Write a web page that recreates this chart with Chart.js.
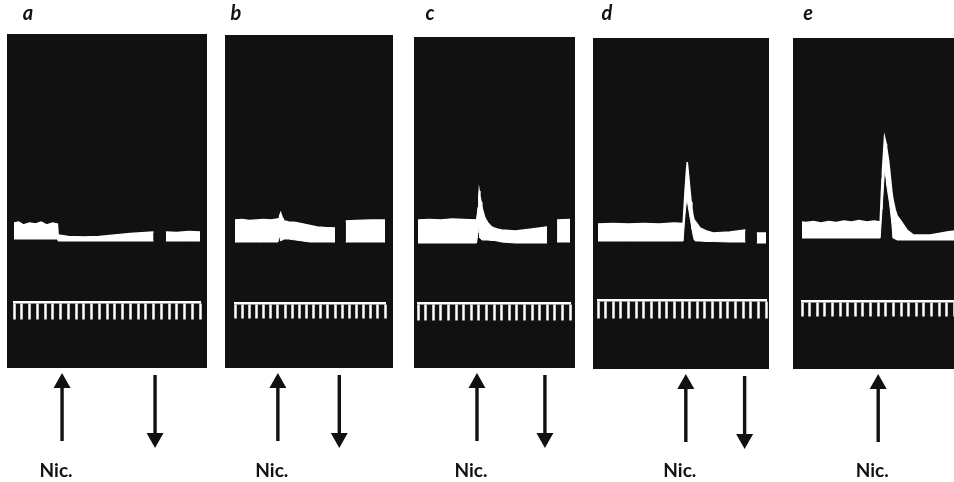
<!DOCTYPE html>
<html>
<head>
<meta charset="utf-8">
<script src="https://cdn.jsdelivr.net/npm/chart.js@4"></script>
<style>
  html, body { margin: 0; padding: 0; background: #fff; overflow: hidden; }
  #wrap { position: relative; width: 954px; height: 482px; overflow: hidden; }
  #wrap canvas { position: absolute; top: 0; }
</style>
</head>
<body>
<div id="wrap"></div>
<script>
// ----------------------
//  DATA (x = time-marker intervals, y = trace height above panel floor)
// ----------------------
const letters = ['a', 'b', 'c', 'd', 'e'];
const markCounts = [24, 21, 20, 22, 21];
const nicOn = [6.2, 6.0, 7.76, 11.5, 10.0];
const nicOff = [18.2, 14.6, 16.7, 19.2, null];

const timeA = [0, 0.6, 1.2, 2, 2.8, 3.5, 4.2, 5, 5.6, 5.7, 7, 9, 11, 13, 15, 17, 18, 18.5, 19.6, 21, 22.5, 24];
const upperA = [145, 146, 143, 145, 144, 146, 143, 145, 144, 133, 131.5, 131, 131.5, 133, 134.5, 135.5, 136, null, 136, 135.5, 136.5, 136];
const lowerA = [129, 129, 129, 129, 129, 129, 129, 129, 129, 127, 127, 127, 127, 127, 127, 127, 127, null, 127, 127, 127, 127];

const timeB = [0, 1, 2, 3, 4, 5, 6, 6.1, 6.2, 6.25, 6.4, 6.6, 6.9, 7.5, 8.5, 9.5, 10.5, 11.5, 12.5, 14, 14.5, 15.5, 17, 19, 21];
const upperB = [148, 148.5, 147.5, 148, 148.5, 148, 149, 149.5, 150, 152, 155, 151, 147, 146, 145.5, 144, 142.5, 141, 140.5, 140, null, 147, 147.5, 148, 148];
const lowerB = [126, 126, 126, 126, 126, 126, 126, 128, 131, 135, 127, 128, 129, 129, 128, 127, 126, 126, 126, 126, null, 126, 126, 126, 126];

const timeC = [0, 1.5, 3, 4.5, 6, 7.7, 7.85, 7.9, 8.0, 8.05, 8.15, 8.3, 8.4, 8.5, 8.8, 9.2, 9.7, 10, 10.4, 11, 12.8, 15, 16.97, 17.5, 18.3, 20];
const upperC = [148, 148.5, 148, 149, 148.5, 148, 155, 160, 172, 177, 172, 166, 162, 158, 150, 145, 141, 140, 139, 138, 137, 139, 141, null, 148, 148.5];
const lowerC = [125, 125, 125, 125, 125, 125, 133, 136, 141, 137, 130, 129, 128, 128, 128, 128, 127.5, 127.5, 127, 126, 125, 125, 125, null, 126, 126];

const timeD = [0, 2, 4, 6, 8, 10, 11.15, 11.3, 11.4, 11.6, 11.69, 11.85, 12.04, 12.2, 12.3, 12.45, 12.6, 12.8, 13, 13.35, 14.2, 15.09, 17.28, 19.3, 20, 20.8, 22];
const upperD = [145, 145.5, 145, 145.5, 145, 146, 145.5, 165, 178, 200, 207, 195, 179, 167, 161, 153, 149, 147, 145, 141, 138, 136, 137, 139, null, 136, 136];
const lowerD = [128, 128, 128, 128, 128, 128, 128, 145, 155, 169, 168, 161, 152, 145, 140, 134, 129, 128, 128, 128, 127.5, 127.5, 127, 127, null, 126, 126];

const timeE = [0, 0.5, 1.5, 2.5, 3.5, 4.5, 5.5, 6.5, 7.5, 8.5, 9.5, 10.26, 10.5, 10.55, 10.83, 11.05, 11.1, 11.36, 11.49, 11.8, 11.93, 12.24, 12.5, 12.9, 13.78, 14.64, 16.84, 19.04, 21];
const upperE = [147, 146.5, 147.5, 146, 147.5, 146.5, 148, 147, 148.5, 147, 148, 147, 190, 197, 232, 225, 222, 209, 200, 177, 170, 159, 153, 149, 139, 134, 134, 137, 139];
const lowerE = [131, 131, 131, 131, 131, 131, 131, 131, 131, 131, 131, 131, 160, 165, 199, 190, 185, 172, 166, 145, 131, 130, 129, 129, 129, 129, 129, 129, 129];

const times = [timeA, timeB, timeC, timeD, timeE];
const uppers = [upperA, upperB, upperC, upperD, upperE];
const lowers = [lowerA, lowerB, lowerC, lowerD, lowerE];

// ----------------------
//  LAYOUT (pixels)
// ----------------------
const frames = [
  { left: 7, right: 207, top: 34, bottom: 368, combLeft: 14, combRight: 200, markY: 66, tickLen: 16, letterX: 28 },
  { left: 225, right: 393, top: 35, bottom: 368, combLeft: 235, combRight: 385, markY: 65, tickLen: 14, letterX: 236 },
  { left: 414, right: 575, top: 37, bottom: 368, combLeft: 418, combRight: 570, markY: 65, tickLen: 16, letterX: 430 },
  { left: 593, right: 769, top: 38, bottom: 369, combLeft: 598, combRight: 766, markY: 69, tickLen: 17, letterX: 607 },
  { left: 793, right: 970, top: 38, bottom: 369, combLeft: 802, combRight: 962, markY: 68, tickLen: 14, letterX: 808 },
];

function toPoints(xs, ys) {
  return xs.map((x, k) => ({ x: x, y: ys[k] }));
}

//  ARROW
function drawArrow(ctx, x, yTop, yBottom, up) {
  const headH = 15, headW = 8.5;
  ctx.save();
  ctx.fillStyle = '#111';
  if (up) {
    ctx.fillRect(x - 1.7, yTop + headH - 2, 3.4, yBottom - yTop - headH + 2);
    ctx.beginPath();
    ctx.moveTo(x, yTop);
    ctx.lineTo(x + headW, yTop + headH);
    ctx.lineTo(x - headW, yTop + headH);
  } else {
    ctx.fillRect(x - 1.7, yTop, 3.4, yBottom - yTop - headH + 2);
    ctx.beginPath();
    ctx.moveTo(x, yBottom);
    ctx.lineTo(x + headW, yBottom - headH);
    ctx.lineTo(x - headW, yBottom - headH);
  }
  ctx.closePath();
  ctx.fill();
  ctx.restore();
}

const panelPlugin = {
  id: 'panel',
  beforeDraw(chart) {
    const { ctx, chartArea } = chart;
    ctx.save();
    ctx.fillStyle = '#111';
    ctx.fillRect(0, chartArea.top, chart.width, chartArea.bottom - chartArea.top);
    ctx.restore();
  },
  afterDraw(chart) {
    const i = chart.options.panelIndex;
    const f = frames[i];
    const { ctx, chartArea } = chart;
    const x = chart.scales.x;
    const floor = chartArea.bottom;

    const upX = x.getPixelForValue(nicOn[i]);
    drawArrow(ctx, upX, floor + 5, floor + 73, true);
    if (nicOff[i] !== null) {
      drawArrow(ctx, x.getPixelForValue(nicOff[i]), floor + 7, floor + 80, false);
    }

    ctx.save();
    ctx.fillStyle = '#111';
    ctx.textAlign = 'center';
    ctx.textBaseline = 'alphabetic';
    ctx.font = 'bold 19px Lato, "Open Sans", sans-serif';
    ctx.fillText('Nic.', upX - 6, 477);
    ctx.font = 'italic bold 20px Lato, "Open Sans", sans-serif';
    ctx.fillText(letters[i], f.letterX - f.left, 20);
    ctx.restore();
  }
};

// ----------------------
//  BUILD PANELS
// ----------------------
const wrap = document.getElementById('wrap');

frames.forEach((f, i) => {
  const canvas = document.createElement('canvas');
  canvas.width = f.right - f.left;
  canvas.height = 482;
  canvas.style.left = f.left + 'px';
  wrap.appendChild(canvas);

  new Chart(canvas, {
    type: 'line',
    data: {
      datasets: [{
        data: toPoints(times[i], uppers[i]),
        borderColor: '#fff',
        backgroundColor: '#fff',
        borderWidth: 1.5,
        fill: '+1',
        pointRadius: 0,
      }, {
        data: toPoints(times[i], lowers[i]),
        borderColor: '#fff',
        borderWidth: 1,
        fill: false,
        pointRadius: 0,
      }]
    },
    options: {
      panelIndex: i,
      responsive: false,
      animation: false,
      layout: {
        padding: {
          left: f.combLeft - f.left,
          right: f.right - f.combRight,
          top: f.top,
          bottom: 482 - f.bottom
        }
      },
      plugins: {
        legend: { display: false },
        tooltip: { enabled: false }
      },
      scales: {
        x: {
          type: 'linear',
          min: 0,
          max: markCounts[i],
          position: { y: f.markY },
          ticks: { display: false, stepSize: 1 },
          grid: {
            display: true,
            drawOnChartArea: false,
            drawTicks: true,
            tickLength: f.tickLen,
            tickWidth: 2.5,
            tickColor: '#fff'
          },
          border: { display: true, color: '#fff', width: 2.5 }
        },
        y: {
          display: false,
          min: 0,
          max: f.bottom - f.top
        }
      }
    },
    plugins: [panelPlugin]
  });
});
</script>
</body>
</html>
